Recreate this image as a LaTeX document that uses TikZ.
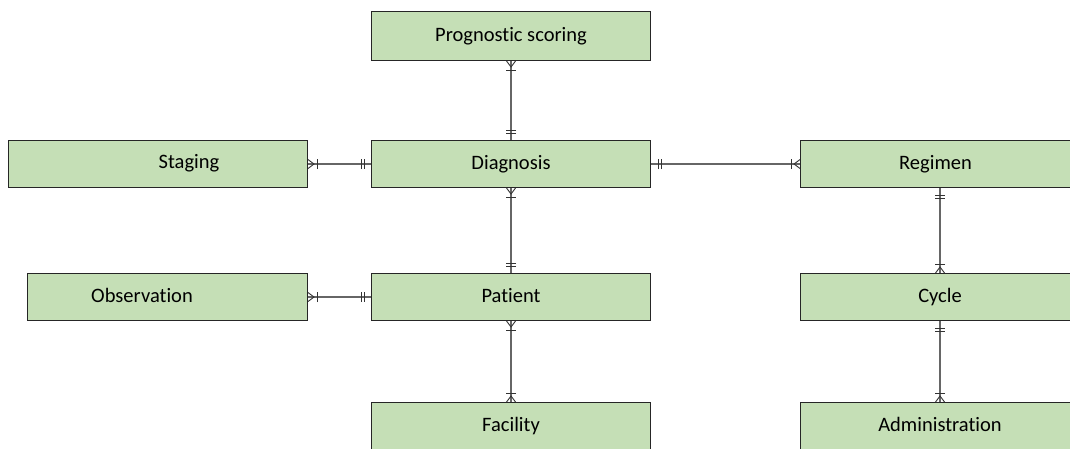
\documentclass[tikz,border=0pt]{standalone}
\usepackage{fontspec}
\setmainfont[Ligatures=NoCommon]{Carlito}
\definecolor{boxgreen}{HTML}{C5DFB6}
\definecolor{linegrey}{HTML}{666666}
\begin{document}
\begin{tikzpicture}[x=1pt,y=-1pt,
  box/.style={draw=black!85, line width=1pt, fill=boxgreen, minimum width=279pt,
    minimum height=47pt, inner sep=0pt, anchor=north west, text height=14pt, text depth=4pt,
    font=\fontsize{20.5}{24}\selectfont},
  lbl/.style={inner sep=0pt, text height=14pt, text depth=4pt, font=\fontsize{20.5}{24}\selectfont},
  conn/.style={draw=linegrey, line width=1.1pt},
  erm/.style={draw=black!80, line width=0.9pt},
  pics/crowbar/.style={code={\draw[erm] (-4.5,0) -- (0,6) -- (4.5,0); \draw[erm] (-5,9) -- (5,9);}},
  pics/dblbar/.style={code={\draw[erm] (-5,7) -- (5,7); \draw[erm] (-5,10) -- (5,10);}}]
\useasboundingbox (0,0) rectangle (1070,448);
\clip (0,0) rectangle (1070,448);
\fill[white] (0,0) rectangle (1070,448);
% boxes
\node[box, minimum height=49pt] (prog) at (371,11) {Prognostic scoring};
\node[box, minimum width=299pt] (staging) at (8,140) {};
\node[lbl] (stagingtext) at (189,163.5) {Staging};
\node[box] (diag) at (371,140) {Diagnosis};
\node[box] (reg) at (800,140) {\hspace*{-9pt}Regimen};
\node[box, minimum width=280pt] (obs) at (27,273) {};
\node[lbl] (obstext) at (142,297) {Observation};
\node[box] (patient) at (371,273) {Patient};
\node[box] (cycle) at (800,273) {Cycle};
\node[box] (facility) at (371,402) {Facility};
\node[box] (admin) at (800,402) {Administration};
% connectors
\draw[conn] (prog.south) -- (diag.north);
\pic at (prog.south) {crowbar};
\pic[rotate=180] at (diag.north) {dblbar};
\draw[conn] (staging.east) -- (diag.west);
\pic[rotate=90] at (staging.east) {crowbar};
\pic[rotate=-90] at (diag.west) {dblbar};
\draw[conn] (diag.east) -- (reg.west);
\pic[rotate=90] at (diag.east) {dblbar};
\pic[rotate=-90] at (reg.west) {crowbar};
\draw[conn] (diag.south) -- (patient.north);
\pic at (diag.south) {crowbar};
\pic[rotate=180] at (patient.north) {dblbar};
\draw[conn] (obs.east) -- (patient.west);
\pic[rotate=90] at (obs.east) {crowbar};
\pic[rotate=-90] at (patient.west) {dblbar};
\draw[conn] (patient.south) -- (facility.north);
\pic at (patient.south) {crowbar};
\pic[rotate=180] at (facility.north) {crowbar};
\draw[conn] (reg.south) -- (cycle.north);
\pic at (reg.south) {dblbar};
\pic[rotate=180] at (cycle.north) {crowbar};
\draw[conn] (cycle.south) -- (admin.north);
\pic at (cycle.south) {dblbar};
\pic[rotate=180] at (admin.north) {crowbar};
\end{tikzpicture}
\end{document}
